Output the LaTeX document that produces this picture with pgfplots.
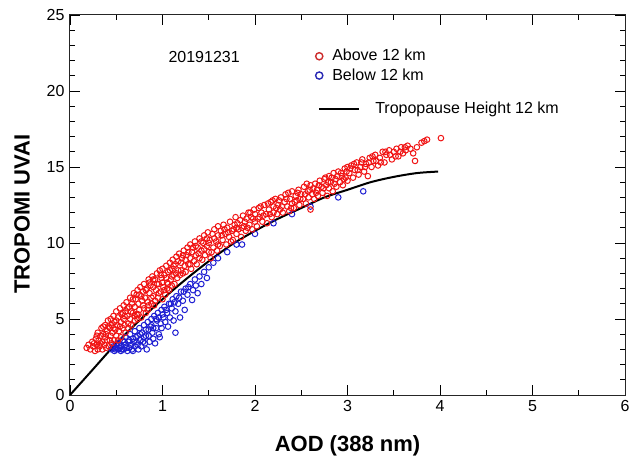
\documentclass[border=0pt]{standalone}
\usepackage{pgfplots}
\pgfplotsset{compat=1.18}
\usepackage{fontspec}
\setmainfont{Liberation Sans}
\definecolor{redpt}{RGB}{240,20,20}
\definecolor{bluept}{RGB}{30,30,210}
\definecolor{legred}{RGB}{205,45,45}
\definecolor{legblue}{RGB}{40,40,180}
\begin{document}
\fontsize{16bp}{19bp}\selectfont
\begin{tikzpicture}
\begin{axis}[
  at={(0,0)}, anchor=south west,
  scale only axis, width=555bp, height=380bp,
  xmin=0, xmax=6, ymin=0, ymax=25,
  xtick={0,1,2,3,4,5,6}, ytick={0,5,10,15,20,25},
  minor x tick num=1, minor y tick num=4,
  major tick length=10bp, minor tick length=5bp,
  tick style={black, line width=0.8bp},
  axis line style={line width=1bp, black!85},
  /pgf/number format/assume math mode=true,
  ticklabel style={font=\fontsize{16bp}{19bp}\selectfont},
  xlabel={AOD (388 nm)}, ylabel={TROPOMI UVAI},
  label style={font=\fontsize{22bp}{26bp}\selectfont\bfseries},
  xlabel style={at={(axis description cs:0.5,-0.15)}, anchor=base},
  ylabel style={at={(axis description cs:-0.0865,0.476)}, anchor=center},
  legend cell align=left,
  legend style={at={(axis description cs:0.441,0.913)}, anchor=north west,
    draw=none, fill=none, inner sep=0pt, row sep=3.3bp, column sep=14bp,
    nodes={inner sep=1bp, font=\fontsize{16bp}{19bp}\selectfont}},
]
% Below 12 km (blue)
\addplot[forget plot, only marks, mark=o, mark size=2.8bp, draw=bluept, mark options={line width=1bp}] coordinates {
(0.45,3.0)(0.47,3.2)(0.48,2.9)(0.5,3.1)(0.5,3.3)(0.52,3.0)(0.53,3.4)(0.55,2.9)(0.55,3.2)(0.57,3.6)
(0.58,3.0)(0.6,3.3)(0.6,3.8)(0.62,2.9)(0.63,3.5)(0.64,3.1)(0.65,4.0)(0.66,3.3)(0.68,3.7)(0.68,2.9)
(0.7,3.2)(0.7,4.2)(0.72,3.5)(0.73,3.9)(0.74,3.0)(0.75,4.4)(0.76,3.6)(0.77,3.2)(0.78,4.1)(0.8,3.8)
(0.8,4.6)(0.81,3.4)(0.82,4.3)(0.83,3.0)(0.84,4.8)(0.85,3.9)(0.86,3.5)(0.87,4.5)(0.88,5.0)(0.89,4.1)
(0.9,3.7)(0.91,5.2)(0.92,3.4)(0.93,4.4)(0.94,4.9)(0.95,5.4)(0.96,4.0)(0.97,3.8)(0.98,4.7)(0.99,5.6)
(0.99,4.4)(1.01,5.1)(1.02,5.8)(1.03,4.8)(1.05,5.4)(1.06,4.5)(1.07,6.0)(1.08,5.1)(1.1,5.7)(1.11,6.3)
(1.12,4.9)(1.14,4.1)(1.14,5.5)(1.15,6.5)(1.17,6.0)(1.19,5.1)(1.2,6.8)(1.22,6.2)(1.24,5.6)(1.25,7.0)
(1.27,6.6)(1.3,7.3)(1.32,6.25)(1.33,6.9)(1.35,7.6)(1.38,6.7)(1.4,7.8)(1.42,7.3)(1.45,8.1)(1.48,7.7)
(1.5,8.4)(1.55,8.7)(1.6,9.0)(1.7,9.4)(1.8,9.9)(1.86,9.9)(2.0,10.6)(2.2,11.3)(2.4,11.9)(2.6,12.4)
(2.9,13.0)(3.17,13.4)
(0.46,3.1)(0.49,3.0)(0.51,3.4)(0.54,3.1)(0.56,3.0)(0.59,3.5)(0.61,3.1)(0.64,3.6)(0.67,3.0)(0.69,3.5)
(0.71,3.8)(0.73,3.3)(0.76,4.0)(0.79,3.5)(0.82,3.9)(0.85,4.3)(0.88,4.6)(0.9,4.4)(0.93,5.0)(0.96,5.1)
(1.0,5.3)(1.04,5.6)(1.09,6.0)(1.13,6.1)(1.18,6.4)(1.23,6.8)(1.28,7.1)(1.36,7.2)
};
% Above 12 km (red)
\addplot[forget plot, only marks, mark=o, mark size=2.8bp, draw=redpt, mark options={line width=1bp}] coordinates {
(0.18,3.1)(0.2,3.3)(0.22,3.0)(0.24,3.5)(0.25,3.2)(0.27,2.9)(0.28,3.7)(0.29,3.3)(0.3,4.1)(0.3,3.0)(0.31,3.6)
(0.32,3.2)(0.33,3.9)(0.34,4.4)(0.35,3.0)(0.35,3.5)(0.36,4.0)(0.37,3.3)(0.38,4.6)(0.38,3.8)(0.39,3.1)
(0.4,4.2)(0.4,3.6)(0.41,4.9)(0.42,3.2)(0.43,4.4)(0.44,3.9)(0.44,5.0)(0.45,3.4)(0.45,4.6)
(0.46,4.1)(0.47,5.2)(0.48,3.6)(0.48,4.8)(0.49,4.3)(0.5,5.5)(0.5,3.9)(0.51,4.6)(0.52,5.1)(0.53,4.2)
(0.54,5.7)(0.55,4.8)(0.55,3.8)(0.56,5.3)(0.57,4.4)(0.58,5.9)(0.58,5.0)(0.59,4.6)(0.6,5.5)(0.6,4.1)
(0.61,6.1)(0.62,5.2)(0.63,4.7)(0.64,5.8)(0.65,6.4)(0.65,5.0)(0.66,4.6)(0.67,6.0)(0.68,5.4)(0.69,6.7)
(0.7,4.9)(0.7,5.8)(0.71,6.3)(0.72,5.3)(0.73,6.9)(0.73,5.0)(0.74,6.0)(0.75,5.6)(0.75,6.6)
(0.76,7.1)(0.77,5.1)(0.78,6.2)(0.79,6.8)(0.8,5.7)(0.8,7.3)(0.81,6.4)(0.82,5.4)(0.83,7.0)(0.84,6.1)
(0.85,7.6)(0.85,5.9)(0.86,6.7)(0.87,7.2)(0.88,6.0)(0.89,7.8)(0.9,6.5)(0.9,7.1)
(0.91,5.9)(0.92,7.6)(0.93,6.9)(0.94,8.0)(0.95,6.4)(0.96,7.3)(0.97,8.2)(0.98,6.8)(0.99,7.7)(1.0,6.3)
(1.0,8.3)(1.01,7.1)(1.02,7.9)(1.03,6.6)(1.04,8.5)(1.05,7.4)(1.05,7.0)
(1.06,8.1)(1.07,6.9)(1.08,8.7)(1.09,7.6)(1.1,8.3)(1.1,7.2)(1.11,8.9)(1.12,7.9)(1.13,7.3)(1.14,8.6)
(1.15,9.1)(1.16,7.7)(1.17,8.2)(1.18,9.3)(1.19,7.9)(1.2,8.7)
(1.21,9.0)(1.22,8.0)(1.23,9.5)(1.24,8.5)(1.25,8.1)(1.26,9.2)(1.27,9.7)(1.28,8.6)(1.3,9.0)(1.3,9.9)
(1.31,8.3)(1.32,9.4)(1.34,8.8)(1.35,10.1)(1.36,9.2)(1.37,8.6)(1.38,9.7)(1.4,10.3)(1.4,9.0)
(1.42,9.5)(1.43,8.9)(1.44,10.0)(1.45,10.5)(1.46,9.2)(1.48,9.8)(1.49,10.7)(1.5,9.4)(1.51,10.2)(1.52,9.0)
(1.54,10.6)(1.55,9.7)(1.56,10.9)(1.58,10.1)(1.59,9.5)(1.6,10.5)(1.6,11.1)
(1.62,9.8)(1.63,10.8)(1.65,10.2)(1.66,11.2)(1.68,10.6)(1.69,9.9)(1.7,11.0)(1.72,10.4)(1.73,11.4)
(1.75,10.8)(1.76,10.2)(1.78,11.2)(1.79,11.7)(1.8,10.6)(1.8,11.0)
(1.82,10.9)(1.84,11.5)(1.85,10.4)(1.87,11.8)(1.88,11.1)(1.9,10.8)(1.91,11.6)(1.93,12.0)(1.94,11.2)
(1.96,11.7)(1.97,10.9)(1.99,12.2)(2.0,11.4)(2.0,11.9)
(2.02,11.1)(2.04,12.3)(2.05,11.7)(2.07,12.0)(2.08,11.4)(2.1,12.5)(2.12,11.9)(2.13,11.3)(2.15,12.2)
(2.17,12.7)(2.18,11.7)(2.2,12.4)(2.2,12.0)
(2.22,12.9)(2.24,11.9)(2.25,12.5)(2.27,12.2)(2.28,13.0)(2.3,12.0)(2.32,12.7)(2.33,13.2)(2.35,12.4)
(2.37,12.1)(2.38,12.9)(2.4,13.4)(2.4,12.6)
(2.42,12.3)(2.44,13.1)(2.45,12.8)(2.47,13.5)(2.48,12.5)(2.5,13.2)(2.52,12.9)(2.53,13.7)(2.55,12.6)
(2.57,13.4)(2.58,13.0)(2.6,13.8)(2.6,12.2)
(2.62,13.2)(2.64,12.9)(2.65,13.9)(2.67,13.5)(2.68,13.1)(2.7,14.1)(2.72,13.7)(2.73,13.3)(2.75,14.2)
(2.77,13.8)(2.78,13.1)(2.8,14.4)(2.8,13.6)
(2.82,14.0)(2.84,13.4)(2.85,14.6)(2.87,14.2)(2.88,13.7)(2.9,14.7)(2.92,14.0)(2.94,14.4)(2.95,13.8)
(2.97,14.9)(2.98,14.3)(3.0,15.0)(3.0,14.1)
(3.02,14.6)(3.04,15.1)(3.06,14.3)(3.08,14.8)(3.1,15.3)(3.12,14.5)(3.14,15.0)(3.16,15.5)(3.18,14.7)(3.2,15.2)
(3.22,14.4)(3.24,15.6)(3.26,15.0)(3.28,15.4)(3.3,15.8)(3.33,15.1)(3.35,15.6)(3.38,16.0)(3.4,15.3)
(3.42,15.8)(3.45,16.1)(3.48,15.5)(3.5,16.0)
(3.53,16.2)(3.55,15.7)(3.58,16.3)(3.6,15.9)(3.63,16.1)(3.65,16.4)(3.68,16.2)(3.71,15.9)(3.73,15.4)
(3.75,16.3)(3.8,16.6)(3.83,16.7)(3.86,16.8)(4.01,16.9)
(0.26,3.4)(0.29,3.9)(0.33,3.4)(0.36,4.5)(0.39,4.0)(0.42,4.5)(0.43,3.6)(0.47,4.4)(0.5,4.9)(0.52,3.6)
(0.54,4.5)(0.57,5.4)(0.59,5.2)(0.62,5.7)(0.63,4.4)(0.66,5.5)(0.68,6.3)(0.7,5.2)(0.72,6.6)(0.74,5.3)
(0.77,6.5)(0.79,5.9)(0.82,6.9)(0.84,5.6)(0.86,7.4)(0.88,6.4)(0.9,7.6)(0.92,6.2)(0.94,7.3)(0.96,6.7)
(0.98,7.9)(1.0,7.4)(1.02,6.9)(1.04,7.7)(1.06,7.3)(1.08,8.2)(1.1,7.8)(1.12,8.5)(1.15,8.0)(1.17,8.8)
(1.2,8.2)(1.22,9.2)(1.25,8.9)(1.28,9.4)(1.3,8.6)(1.33,9.7)(1.36,9.8)(1.39,9.3)(1.42,10.1)(1.45,9.6)
(1.48,10.3)(1.5,10.0)(1.53,9.4)(1.56,10.3)(1.6,9.9)(1.64,10.5)(1.67,10.9)(1.71,10.7)(1.74,10.1)(1.77,10.9)
(1.81,11.3)(1.86,11.0)(1.89,11.4)(1.92,11.0)(1.95,12.0)(1.98,11.6)(2.03,11.6)(2.06,12.4)(2.09,11.8)(2.14,12.6)
(2.16,11.9)(2.19,12.8)(2.23,12.3)(2.26,12.8)(2.29,12.4)(2.34,12.9)(2.36,13.3)(2.39,12.3)(2.43,12.7)(2.46,13.3)
(2.49,12.9)(2.54,13.2)(2.56,13.9)(2.59,13.5)(2.63,13.6)(2.66,13.3)(2.69,13.8)(2.74,13.6)(2.76,14.3)(2.79,14.0)
(2.83,14.3)(2.86,13.9)(2.89,14.4)(2.93,14.6)(2.96,14.2)(2.99,14.7)(3.03,14.9)(3.07,15.2)(3.11,14.8)(3.15,15.3)
(3.19,15.0)(3.23,15.3)(3.27,15.7)(3.31,15.4)(3.36,15.3)(3.41,16.0)(3.46,15.8)(3.52,15.7)(3.57,16.0)(3.62,16.3)
};
% Tropopause height curve
\addplot[forget plot, black, line width=2bp, smooth] coordinates {
(0,0)(0.25,1.7)(0.5,3.4)(0.75,4.9)(1,6.3)(1.25,7.6)(1.5,8.8)(1.75,9.9)(2,10.8)(2.25,11.6)
(2.5,12.3)(2.75,13.0)(3,13.5)(3.25,14.0)(3.5,14.35)(3.75,14.6)(3.98,14.7)
};
\addlegendimage{legend image code/.code={\draw[legred, line width=1.4bp] (0bp,0bp) circle[radius=3.6bp];}}
\addlegendentry{\hspace{-43bp}Above 12 km}
\addlegendimage{legend image code/.code={\draw[legblue, line width=1.4bp] (0bp,0bp) circle[radius=3.6bp];}}
\addlegendentry{\hspace{-43bp}Below 12 km}
\addlegendimage{empty legend}
\addlegendentry{\rule{0pt}{6bp}}
\addlegendimage{legend image code/.code={\draw[black, line width=2bp] (0bp,0bp) -- (40bp,0bp);}}
\addlegendentry{Tropopause Height 12 km}
\node[anchor=base, font=\fontsize{16bp}{19bp}\selectfont] at (axis cs:1.45,21.9) {20191231};
\end{axis}
\pgfresetboundingbox
\path (-70bp,-62bp) rectangle (566bp,395bp);
\end{tikzpicture}
\end{document}
